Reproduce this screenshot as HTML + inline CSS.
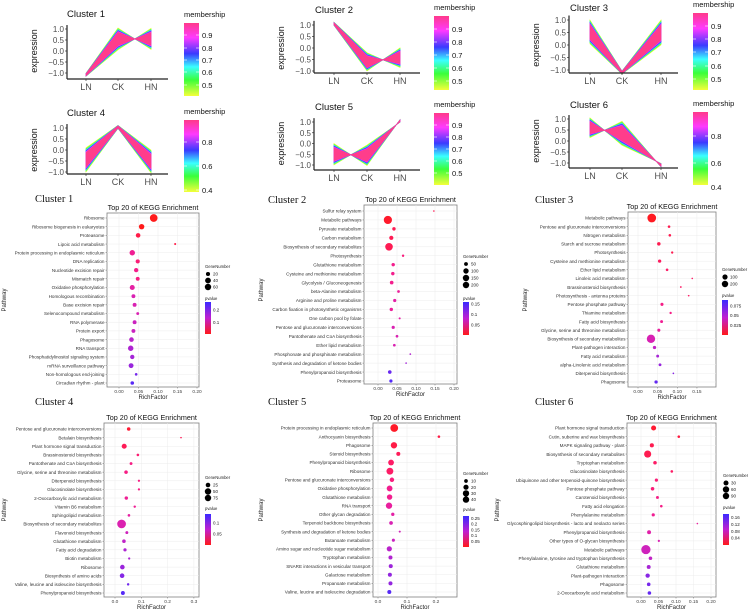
<!DOCTYPE html>
<html><head><meta charset="utf-8">
<style>
body{margin:0;background:#fff;}
svg{display:block;font-family:"Liberation Sans",sans-serif;}
</style></head>
<body>
<svg id="fig" width="748" height="611" viewBox="0 0 748 611"></svg>
<script>
// ---------- cluster line data ----------
const clusterNames = ['Cluster 1','Cluster 2','Cluster 3','Cluster 4','Cluster 5','Cluster 6'];
const conditions = ['LN','CK','HN'];
const clusterCenters = [[-1.08,0.55,0.55],[1.05,-0.6,-0.42],[0.52,-1.1,0.5],[-0.45,1.05,-0.52],[-0.5,-0.55,1.05],[0.6,0.35,-1.1]];
const clusterSpreads = [[0.07,0.5,0.48],[0.07,0.4,0.43],[0.48,0.06,0.5],[0.55,0.07,0.52],[0.5,0.48,0.06],[0.45,0.55,0.08]];
const clusterDirs = [[1,1,-1],[1,1,-1],[1,1,1],[1,1,1],[1,-1,1],[1,-1,1]];
const yTicks = [1.0,0.5,0.0,-0.5,-1.0];
const yTickLabels = ['1.0','0.5','0.0','\u22120.5','\u22121.0'];
const memTicks = [[0.9,0.8,0.7,0.6,0.5],[0.9,0.8,0.7,0.6,0.5],[0.9,0.8,0.7,0.6,0.5],[0.8,0.6,0.4],[0.9,0.8,0.7,0.6,0.5],[0.8,0.6,0.4]];

// layout (pixels)
const lineLayout = [
 {l:67,r:168,y1:29,ym1:73,bot:79,xs:[86,118,151],tx:67,ty:17,cbx:184,cby:23,cbh:73,lab:[35,48,60,72,85]},
 {l:314,r:420,y1:25,ym1:71,bot:73,xs:[334,367,400],tx:315,ty:13,cbx:434,cby:16,cbh:74,lab:[29,42,55,68,81]},
 {l:569,r:678,y1:20,ym1:70,bot:73,xs:[590,622,661],tx:570,ty:11,cbx:693,cby:13,cbh:77,lab:[26,39,52,66,79]},
 {l:67,r:168,y1:128,ym1:172,bot:174,xs:[86,118,151],tx:67,ty:116,cbx:184,cby:120,cbh:72,lab:[142,166,190]},
 {l:314,r:420,y1:122,ym1:165,bot:170,xs:[334,367,400],tx:315,ty:110,cbx:434,cby:113,cbh:72,lab:[125,137,149,161,173]},
 {l:569,r:678,y1:119,ym1:163,bot:168,xs:[590,622,661],tx:570,ty:108,cbx:693,cby:112,cbh:73,lab:[136,163,187]}
];
const bandColors = ['#f4ff3a','#b8ff3a','#3cff4a','#3cffd0','#3cb0ff','#3a3aff','#9a3aff','#ff3aff','#ff3d8b'];
const bandScale = [1,0.95,0.9,0.85,0.8,0.75,0.7,0.65,0.6];

// ---------- KEGG data ----------
const p1Pathways=['Ribosome','Ribosome biogenesis in eukaryotes','Proteasome','Lipoic acid metabolism','Protein processing in endoplasmic reticulum','DNA replication','Nucleotide excision repair','Mismatch repair','Oxidative phosphorylation','Homologous recombination','Base excision repair','Selenocompound metabolism','RNA polymerase','Protein export','Phagosome','RNA transport','Phosphatidylinositol signaling system','mRNA surveillance pathway','Non-homologous end-joining','Circadian rhythm - plant'];
const p1Rich=[0.089,0.058,0.049,0.144,0.034,0.048,0.044,0.048,0.034,0.037,0.040,0.048,0.040,0.037,0.032,0.030,0.034,0.031,0.044,0.034];
const p1Genes=[70,35,25,5,35,20,22,18,30,18,18,10,18,18,25,35,22,28,8,15];
const p1Pval=[0.001,0.01,0.02,0.02,0.08,0.05,0.07,0.06,0.1,0.12,0.12,0.12,0.14,0.14,0.16,0.17,0.18,0.19,0.22,0.24];

const p2Pathways=['Sulfur relay system','Metabolic pathways','Pyruvate metabolism','Carbon metabolism','Biosynthesis of secondary metabolites','Photosynthesis','Glutathione metabolism','Cysteine and methionine metabolism','Glycolysis / Gluconeogenesis','beta-Alanine metabolism','Arginine and proline metabolism','Carbon fixation in photosynthetic organisms','One carbon pool by folate','Pentose and glucuronate interconversions','Pantothenate and CoA biosynthesis','Ether lipid metabolism','Phosphonate and phosphinate metabolism','Synthesis and degradation of ketone bodies','Phenylpropanoid biosynthesis','Proteasome'];
const p2Rich=[0.147,0.026,0.042,0.035,0.029,0.066,0.040,0.039,0.036,0.054,0.044,0.035,0.057,0.040,0.050,0.043,0.085,0.074,0.031,0.034];
const p2Genes=[5,230,40,60,200,20,40,40,45,25,35,40,15,35,25,25,10,5,45,35];
const p2Pval=[0.01,0.001,0.01,0.01,0.01,0.03,0.04,0.04,0.04,0.05,0.06,0.05,0.06,0.07,0.07,0.07,0.10,0.11,0.14,0.15];

const p3Pathways=['Metabolic pathways','Pentose and glucuronate interconversions','Nitrogen metabolism','Starch and sucrose metabolism','Photosynthesis','Cysteine and methionine metabolism','Ether lipid metabolism','Linoleic acid metabolism','Brassinosteroid biosynthesis','Photosynthesis - antenna proteins','Pentose phosphate pathway','Thiamine metabolism','Fatty acid biosynthesis','Glycine, serine and threonine metabolism','Biosynthesis of secondary metabolites','Plant-pathogen interaction','Fatty acid metabolism','alpha-Linolenic acid metabolism','Diterpenoid biosynthesis','Phagosome'];
const p3Rich=[0.035,0.079,0.081,0.053,0.087,0.055,0.074,0.138,0.109,0.129,0.061,0.083,0.060,0.053,0.033,0.042,0.050,0.056,0.090,0.046];
const p3Genes=[280,25,25,45,20,40,25,8,12,10,35,20,30,35,260,40,30,30,10,40];
const p3Pval=[0.0001,0.005,0.005,0.005,0.005,0.008,0.01,0.01,0.01,0.01,0.02,0.02,0.025,0.03,0.04,0.05,0.06,0.065,0.07,0.08];

const p4Pathways=['Pentose and glucuronate interconversions','Betalain biosynthesis','Plant hormone signal transduction','Brassinosteroid biosynthesis','Pantothenate and CoA biosynthesis','Glycine, serine and threonine metabolism','Diterpenoid biosynthesis','Glucosinolate biosynthesis','2-Oxocarboxylic acid metabolism','Vitamin B6 metabolism','Sphingolipid metabolism','Biosynthesis of secondary metabolites','Flavonoid biosynthesis','Glutathione metabolism','Fatty acid degradation','Biotin metabolism','Ribosome','Biosynthesis of amino acids','Valine, leucine and isoleucine biosynthesis','Phenylpropanoid biosynthesis'];
const p4Rich=[0.052,0.251,0.035,0.087,0.061,0.042,0.091,0.091,0.043,0.075,0.053,0.025,0.045,0.034,0.038,0.054,0.028,0.027,0.050,0.030];
const p4Genes=[15,3,30,8,10,15,6,6,14,7,8,90,10,15,12,6,25,25,7,18];
const p4Pval=[0.002,0.01,0.01,0.02,0.03,0.03,0.03,0.03,0.04,0.04,0.05,0.06,0.07,0.08,0.09,0.09,0.10,0.11,0.12,0.13];

const p5Pathways=['Protein processing in endoplasmic reticulum','Anthocyanin biosynthesis','Phagosome','Steroid biosynthesis','Phenylpropanoid biosynthesis','Ribosome','Pentose and glucuronate interconversions','Oxidative phosphorylation','Glutathione metabolism','RNA transport','Other glycan degradation','Terpenoid backbone biosynthesis','Synthesis and degradation of ketone bodies','Butanoate metabolism','Amino sugar and nucleotide sugar metabolism','Tryptophan metabolism','SNARE interactions in vesicular transport','Galactose metabolism','Propanoate metabolism','Valine, leucine and isoleucine degradation'];
const p5Rich=[0.056,0.210,0.055,0.070,0.045,0.041,0.048,0.040,0.040,0.038,0.051,0.045,0.075,0.053,0.039,0.043,0.044,0.041,0.043,0.039];
const p5Genes=[45,5,30,12,25,35,15,25,22,30,8,10,3,7,20,12,12,12,12,12];
const p5Pval=[0.001,0.01,0.01,0.02,0.03,0.03,0.05,0.07,0.07,0.09,0.10,0.12,0.13,0.14,0.16,0.17,0.19,0.20,0.20,0.25];

const p6Pathways=['Plant hormone signal transduction','Cutin, suberine and wax biosynthesis','MAPK signaling pathway - plant','Biosynthesis of secondary metabolites','Tryptophan metabolism','Glucosinolate biosynthesis','Ubiquinone and other terpenoid-quinone biosynthesis','Pentose phosphate pathway','Carotenoid biosynthesis','Fatty acid elongation','Phenylalanine metabolism','Glycosphingolipid biosynthesis - lacto and neolacto series','Phenylpropanoid biosynthesis','Other types of O-glycan biosynthesis','Metabolic pathways','Phenylalanine, tyrosine and tryptophan biosynthesis','Glutathione metabolism','Plant-pathogen interaction','Phagosome','2-Oxocarboxylic acid metabolism'];
const p6Rich=[0.036,0.108,0.031,0.019,0.040,0.088,0.044,0.033,0.047,0.058,0.035,0.161,0.023,0.051,0.014,0.027,0.022,0.019,0.022,0.024];
const p6Genes=[30,8,20,60,15,8,12,15,10,8,12,3,18,6,100,15,18,22,15,15];
const p6Pval=[0.002,0.005,0.01,0.01,0.02,0.02,0.03,0.03,0.04,0.04,0.05,0.06,0.07,0.08,0.09,0.10,0.12,0.14,0.15,0.16];

const keggTicks=[[0,0.05,0.1,0.15,0.2],[0,0.05,0.1,0.15,0.2],[0,0.05,0.1,0.15],[0,0.1,0.2,0.3],[0,0.1,0.2],[0,0.05,0.1,0.15,0.2]];
const keggTickLabels=[['0.00','0.05','0.10','0.15','0.20'],['0.00','0.05','0.10','0.15','0.20'],['0.00','0.05','0.10','0.15'],['0.0','0.1','0.2','0.3'],['0.0','0.1','0.2'],['0.00','0.05','0.10','0.15','0.20']];
const geneLegendVals=[[20,40,60],[50,100,150,200],[100,200],[25,50,75],[10,20,30,40],[30,60,90]];
const pLegendVals=[[0.2,0.1],[0.15,0.10,0.05],[0.075,0.050,0.025],[0.10,0.05],[0.25,0.20,0.15,0.10,0.05],[0.16,0.12,0.08,0.04]];

// layout for KEGG panels (pixels)
const keggLayout=[
 {bl:107,br:199,bt:213,bb:387,r0:218,r1:383,x0:119,ppu:390,k:0.46,pmin:0.01,pmax:0.26,lx:205,gy:268,gs:6.5,py:300,cbt:302,cbb:334,clx:35,cly:202,pwx:6,pwy:300},
 {bl:364,br:457,bt:205,bb:384,r0:211,r1:381,x0:378,ppu:380,k:0.27,pmin:0.0,pmax:0.16,lx:463,gy:258,gs:7,py:300,cbt:302,cbb:335,clx:268,cly:203,pwx:263,pwy:290},
 {bl:628,br:716,bt:212,bb:387,r0:218,r1:382,x0:638,ppu:393,k:0.26,pmin:0.0,pmax:0.09,lx:722,gy:271,gs:7,py:297,cbt:300,cbb:335,clx:535,cly:203,pwx:527,pwy:300},
 {bl:104,br:199,bt:423,bb:597,r0:429,r1:593,x0:115,ppu:263,k:0.46,pmin:0.0,pmax:0.14,lx:205,gy:479,gs:6.5,py:510,cbt:514,cbb:545,clx:35,cly:405,pwx:6,pwy:510},
 {bl:373,br:457,bt:423,bb:597,r0:428,r1:592,x0:378,ppu:290,k:0.58,pmin:0.0,pmax:0.27,lx:463,gy:475,gs:6.2,py:511,cbt:516,cbb:547,clx:268,cly:405,pwx:263,pwy:510},
 {bl:627,br:716,bt:423,bb:597,r0:428,r1:593,x0:641,ppu:350,k:0.46,pmin:0.0,pmax:0.18,lx:723,gy:477,gs:6.5,py:509,cbt:514,cbb:545,clx:535,cly:405,pwx:499,pwy:510}
];
const keggData=[[p1Pathways,p1Rich,p1Genes,p1Pval],[p2Pathways,p2Rich,p2Genes,p2Pval],[p3Pathways,p3Rich,p3Genes,p3Pval],[p4Pathways,p4Rich,p4Genes,p4Pval],[p5Pathways,p5Rich,p5Genes,p5Pval],[p6Pathways,p6Rich,p6Genes,p6Pval]];

const NS='http://www.w3.org/2000/svg';
const svg=document.getElementById('fig');
function mk(tag,attrs,parent,text){const e=document.createElementNS(NS,tag);for(const k in attrs)e.setAttribute(k,attrs[k]);if(text!==undefined)e.textContent=text;(parent||svg).appendChild(e);return e;}

// gradient defs
const defs=mk('defs',{});
const mg=mk('linearGradient',{id:'memgrad',x1:0,y1:0,x2:0,y2:1},defs);
[['0%','#ff3a8a'],['20%','#ff3aff'],['42%','#3a3aff'],['60%','#3affff'],['78%','#3aff3a'],['100%','#f4ff3a']].forEach(s=>mk('stop',{offset:s[0],'stop-color':s[1]},mg));
const pg=mk('linearGradient',{id:'pgrad',x1:0,y1:0,x2:0,y2:1},defs);
[['0%','#3a2aff'],['50%','#c01fd0'],['100%','#ff1a1a']].forEach(s=>mk('stop',{offset:s[0],'stop-color':s[1]},pg));

// ---------- line cluster panels ----------
lineLayout.forEach((L,ci)=>{
  const g=mk('g',{});
  
  
  const yS=v=>L.ym1+(v+1)*(L.y1-L.ym1)/2;
  const t=mk('text',{x:L.tx,y:L.ty,'font-size':9.5,fill:'#111'},g,clusterNames[ci]);
  
  
  const cx=L.l-30, cy=(L.y1+L.ym1)/2;
  const yl=mk('text',{x:cx,y:cy,'font-size':9,fill:'#111','text-anchor':'middle',transform:`rotate(-90 ${cx} ${cy})`},g,'expression');
  
  
  yTicks.forEach((v,i)=>{
    const tk=mk('text',{x:L.l-3,y:yS(v)+3,'font-size':8,fill:'#4d4d4d','text-anchor':'end'},g,yTickLabels[i]);
    
    
    mk('line',{x1:L.l-2,x2:L.l,y1:yS(v),y2:yS(v),stroke:'#333','stroke-width':0.7},g);
  });
  const C=clusterCenters[ci],S=clusterSpreads[ci],D=clusterDirs[ci];
  bandColors.forEach((col,bi)=>{
    const s=bandScale[bi];
    const up=L.xs.map((x,i)=>x+','+yS(C[i]+D[i]*S[i]*s));
    const lo=L.xs.map((x,i)=>x+','+yS(C[i]-D[i]*S[i]*s)).reverse();
    const p=mk('polygon',{points:up.concat(lo).join(' '),fill:col,stroke:col,'stroke-width':0.6},g);
    
    
  });
  mk('line',{x1:L.l,x2:L.l,y1:yS(1.18),y2:L.bot,stroke:'#222','stroke-width':1.2},g);
  mk('line',{x1:L.l,x2:L.r,y1:L.bot,y2:L.bot,stroke:'#222','stroke-width':1.2},g);
  conditions.forEach((c,i)=>{
    mk('line',{x1:L.xs[i],x2:L.xs[i],y1:L.bot,y2:L.bot+2,stroke:'#333','stroke-width':0.7},g);
    const xl=mk('text',{x:L.xs[i],y:L.bot+11,'font-size':9,fill:'#4d4d4d','text-anchor':'middle'},g,c);
    
    
  });
  const mt=mk('text',{x:L.cbx,y:L.cby-6,'font-size':7.5,fill:'#111'},g,'membership');
  
  
  const cb=mk('rect',{x:L.cbx,y:L.cby,width:15,height:L.cbh,fill:'url(#memgrad)'},g);
  
  
  memTicks[ci].forEach((v,i)=>{
    const lt=mk('text',{x:L.cbx+18,y:L.lab[i]+3,'font-size':7.5,fill:'#111'},g,String(v));
    
    
    mk('line',{x1:L.cbx,x2:L.cbx+3,y1:L.lab[i],y2:L.lab[i],stroke:'#fff','stroke-width':0.6},g);
    mk('line',{x1:L.cbx+12,x2:L.cbx+15,y1:L.lab[i],y2:L.lab[i],stroke:'#fff','stroke-width':0.6},g);
  });
});

// ---------- KEGG panels ----------
function pColor(p,pmin,pmax){
  let f=(p-pmin)/(pmax-pmin);f=Math.max(0,Math.min(1,f));
  const rr=Math.round(255-(255-58)*f*f);
  const gg=Math.round(26*(1-f)+42*f);
  const bb=Math.round(26+(255-26)*Math.sqrt(f));
  return `rgb(${rr},${gg},${bb})`;
}
keggLayout.forEach((K,pi)=>{
  const [names,rich,genes,pv]=keggData[pi];
  const g=mk('g',{});
  
  
  const xS=v=>K.x0+v*K.ppu;
  const yS=i=>K.r0+i*(K.r1-K.r0)/(names.length-1);
  const cl=mk('text',{x:K.clx,y:K.cly,'font-size':10.5,fill:'#111','font-family':'"Liberation Serif",serif'},g,clusterNames[pi]);
  
  
  const ti=mk('text',{x:(K.bl+K.br)/2,y:K.bt-3,'font-size':7.2,fill:'#111','text-anchor':'middle'},g,'Top 20 of KEGG Enrichment');
  
  
  mk('rect',{x:K.bl,y:K.bt,width:K.br-K.bl,height:K.bb-K.bt,fill:'#fff',stroke:'#7f7f7f','stroke-width':0.8},g);
  keggTicks[pi].forEach((v,i)=>{
    mk('line',{x1:xS(v),x2:xS(v),y1:K.bt,y2:K.bb,stroke:'#ececec','stroke-width':0.5},g);
    mk('line',{x1:xS(v),x2:xS(v),y1:K.bb,y2:K.bb+1.5,stroke:'#555','stroke-width':0.4},g);
    const tl=mk('text',{x:xS(v),y:K.bb+6,'font-size':4.8,fill:'#444','text-anchor':'middle'},g,keggTickLabels[pi][i]);
    
    
  });
  names.forEach((n,i)=>{
    mk('line',{x1:K.bl,x2:K.br,y1:yS(i),y2:yS(i),stroke:'#ececec','stroke-width':0.5},g);
    mk('line',{x1:K.bl-1.5,x2:K.bl,y1:yS(i),y2:yS(i),stroke:'#555','stroke-width':0.4},g);
    const lt=mk('text',{x:K.bl-2.5,y:yS(i)+1.7,'font-size':4.6,fill:'#333','text-anchor':'end'},g,n);
    
    
  });
  names.forEach((n,i)=>{
    const c=mk('circle',{cx:xS(rich[i]),cy:yS(i),r:Math.max(0.8,K.k*Math.sqrt(genes[i])),fill:pColor(pv[i],K.pmin,K.pmax)},g);
    
    
  });
  const xt=mk('text',{x:(K.bl+K.br)/2,y:K.bb+12,'font-size':6,fill:'#222','text-anchor':'middle'},g,'RichFactor');
  
  
  const pw=mk('text',{x:K.pwx,y:K.pwy,'font-size':6,fill:'#222','text-anchor':'middle',transform:`rotate(-90 ${K.pwx} ${K.pwy})`},g,'Pathway');
  
  
  const gl=mk('text',{x:K.lx,y:K.gy,'font-size':4.2,fill:'#222'},g,'GeneNumber');
  
  
  geneLegendVals[pi].forEach((v,i)=>{
    const yy=K.gy+6+i*K.gs;
    const c=mk('circle',{cx:K.lx+3,cy:yy,r:Math.min(3.2,K.k*Math.sqrt(v)),fill:'#000'},g);
    
    
    mk('text',{x:K.lx+8,y:yy+1.6,'font-size':4.5,fill:'#222'},g,String(v));
  });
  const pl=mk('text',{x:K.lx,y:K.py,'font-size':4.2,fill:'#222'},g,'pvalue');
  
  
  const cb=mk('rect',{x:K.lx,y:K.cbt,width:6,height:K.cbb-K.cbt,fill:'url(#pgrad)'},g);
  
  
  pLegendVals[pi].forEach(v=>{
    const f=(v-K.pmin)/(K.pmax-K.pmin);
    const yy=K.cbb-f*(K.cbb-K.cbt);
    mk('text',{x:K.lx+8,y:yy+1.6,'font-size':4.5,fill:'#222'},g,String(v));
  });
});
</script>
</body></html>
